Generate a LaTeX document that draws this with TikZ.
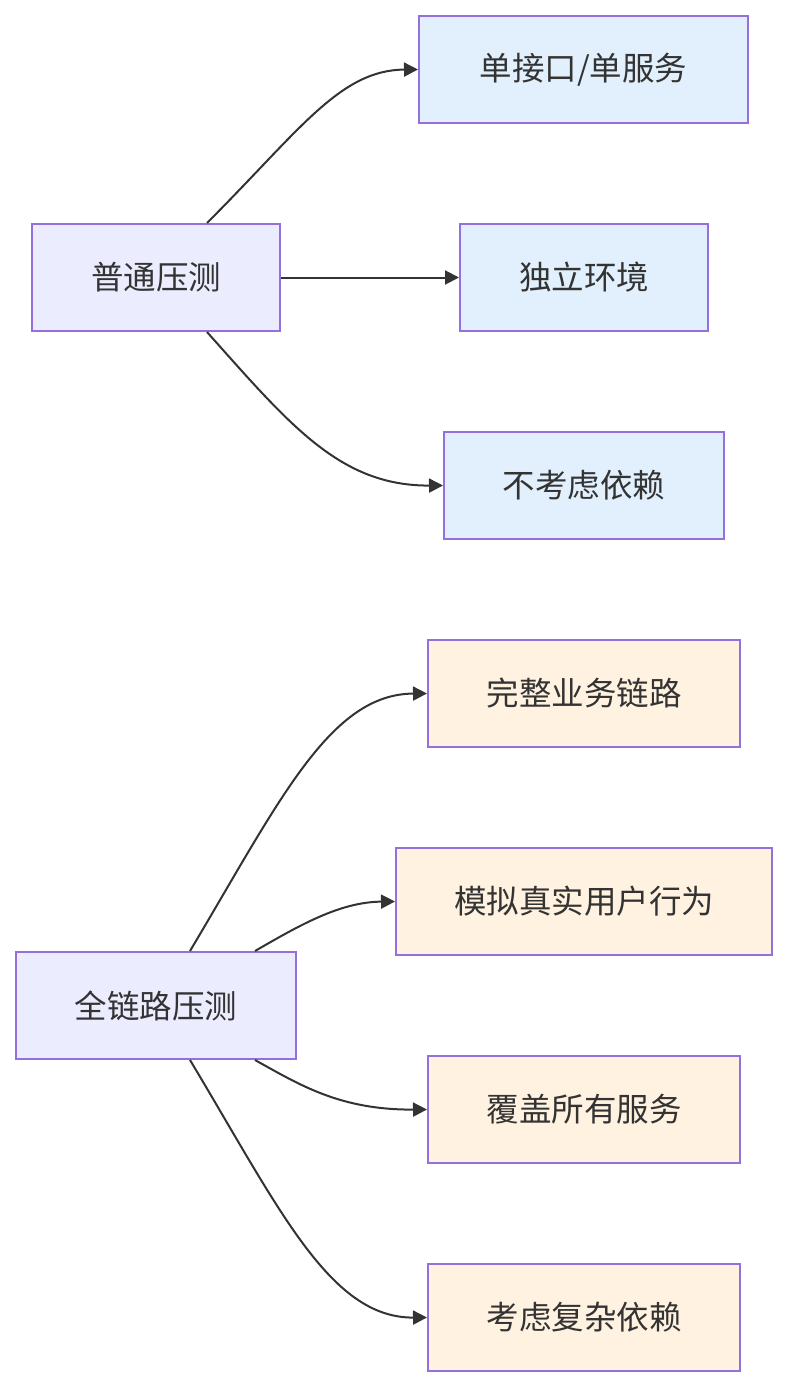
\documentclass[tikz,border=0pt]{standalone}
\usepackage{fontspec}
\setmainfont{Noto Sans CJK SC}
\usetikzlibrary{arrows.meta}
\definecolor{txt}{HTML}{333333}
\definecolor{bordr}{HTML}{9370DB}
\definecolor{lav}{HTML}{ECECFF}
\definecolor{lblue}{HTML}{E1F0FC}
\definecolor{lorange}{HTML}{FFF2E0}
\tikzset{
  box/.style={draw=bordr, line width=2pt, inner sep=0pt, text=txt,
    font=\fontsize{32.5}{38}\selectfont, anchor=north west},
  rootbox/.style={box, fill=lav},
  bluebox/.style={box, fill=lblue},
  orangebox/.style={box, fill=lorange},
  conn/.style={draw=txt, line width=2pt, -{Triangle[length=14pt,width=14pt]}},
}
\begin{document}
\begin{tikzpicture}[x=1pt,y=-1pt]
\useasboundingbox (0,0) rectangle (788,1388);
% top group
\node[rootbox, minimum width=248pt, minimum height=107pt] (p) at (31,223) {普通压测};
\node[bluebox, minimum width=329pt, minimum height=107pt] (p1) at (418,15) {单接口/单服务};
\node[bluebox, minimum width=248pt, minimum height=107pt] (p2) at (459,223) {独立环境};
\node[bluebox, minimum width=280pt, minimum height=107pt] (p3) at (443,431) {不考虑依赖};
% bottom group
\node[rootbox, minimum width=280pt, minimum height=107pt] (f) at (15,951) {全链路压测};
\node[orangebox, minimum width=312pt, minimum height=107pt] (f1) at (427,639) {完整业务链路};
\node[orangebox, minimum width=376pt, minimum height=107pt] (f2) at (395,847) {模拟真实用户行为};
\node[orangebox, minimum width=312pt, minimum height=107pt] (f3) at (427,1055) {覆盖所有服务};
\node[orangebox, minimum width=312pt, minimum height=107pt] (f4) at (427,1263) {考虑复杂依赖};
% connectors
\draw[conn] ([xshift=51pt]p.north) .. controls (300,130) and (340,70) .. (p1.west);
\draw[conn] (p.east) -- (p2.west);
\draw[conn] ([xshift=51pt]p.south) .. controls (290,425) and (340,486) .. (p3.west);
\draw[conn] ([xshift=34pt]f.north) .. controls (280,800) and (330,694) .. (f1.west);
\draw[conn] ([xshift=99pt]f.north) .. controls (300,925) and (340,902) .. (f2.west);
\draw[conn] ([xshift=99pt]f.south) .. controls (300,1085) and (340,1110) .. (f3.west);
\draw[conn] ([xshift=34pt]f.south) .. controls (280,1210) and (330,1318) .. (f4.west);
\end{tikzpicture}
\end{document}
